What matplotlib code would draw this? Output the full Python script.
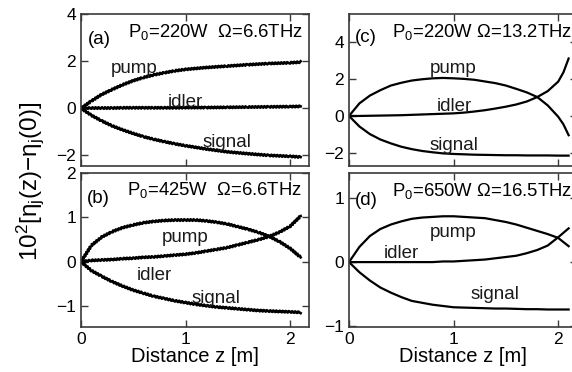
import matplotlib
matplotlib.use("Agg")
import matplotlib.pyplot as plt

plt.rcParams["font.family"] = ["Liberation Sans", "DejaVu Sans"]
plt.rcParams["mathtext.fontset"] = "custom"
plt.rcParams["mathtext.rm"] = "Liberation Sans"
plt.rcParams["mathtext.it"] = "Liberation Sans"
plt.rcParams["mathtext.default"] = "regular"

# ---- panel (a): P0=220W, Omega=6.6THz ----
z_a = [0, 0.1, 0.2, 0.3, 0.4, 0.5, 0.6, 0.7, 0.8, 0.9, 1.0, 1.2, 1.4, 1.6, 1.8, 2.0, 2.1]
pump_a = [0, 0.31, 0.59, 0.80, 1.00, 1.17, 1.31, 1.42, 1.51, 1.59, 1.65, 1.73, 1.79, 1.85, 1.90, 1.93, 1.96]
idler_a = [0, 0.01, 0.01, 0.01, 0.02, 0.02, 0.02, 0.02, 0.02, 0.02, 0.03, 0.03, 0.04, 0.05, 0.06, 0.07, 0.08]
signal_a = [0, -0.30, -0.54, -0.75, -0.92, -1.07, -1.21, -1.32, -1.42, -1.51, -1.59, -1.73, -1.85, -1.93, -2.00, -2.04, -2.07]

# ---- panel (b): P0=425W, Omega=6.6THz ----
z_b = [0, 0.1, 0.2, 0.3, 0.4, 0.5, 0.6, 0.7, 0.8, 0.9, 1.0, 1.1, 1.2, 1.3, 1.4, 1.5, 1.6, 1.7, 1.8, 1.9, 2.0, 2.1]
pump_b = [0, 0.37, 0.56, 0.68, 0.77, 0.83, 0.88, 0.91, 0.93, 0.94, 0.94, 0.94, 0.92, 0.89, 0.85, 0.79, 0.73, 0.66, 0.57, 0.45, 0.30, 0.10]
idler_b = [0, 0.03, 0.04, 0.05, 0.07, 0.08, 0.10, 0.11, 0.13, 0.15, 0.17, 0.20, 0.24, 0.28, 0.32, 0.38, 0.44, 0.50, 0.57, 0.67, 0.80, 1.03]
signal_b = [0, -0.20, -0.33, -0.45, -0.55, -0.64, -0.71, -0.78, -0.83, -0.88, -0.92, -0.96, -0.99, -1.02, -1.04, -1.06, -1.08, -1.10, -1.11, -1.12, -1.13, -1.14]

# ---- panel (c): P0=220W, Omega=13.2THz ----
z_c = [0, 0.1, 0.2, 0.3, 0.4, 0.5, 0.6, 0.7, 0.8, 0.9, 1.0, 1.1, 1.2, 1.3, 1.4, 1.5, 1.6, 1.7, 1.8, 1.9, 2.0, 2.05, 2.1]
pump_c = [0, 0.68, 1.10, 1.39, 1.64, 1.79, 1.91, 1.98, 2.03, 2.05, 2.03, 2.00, 1.95, 1.86, 1.77, 1.64, 1.46, 1.27, 1.02, 0.57, -0.04, -0.45, -1.04]
idler_c = [0, 0.00, 0.01, 0.02, 0.03, 0.04, 0.06, 0.08, 0.10, 0.12, 0.14, 0.18, 0.24, 0.31, 0.40, 0.50, 0.62, 0.78, 1.02, 1.34, 1.85, 2.35, 3.10]
signal_c = [0, -0.57, -0.98, -1.27, -1.48, -1.66, -1.79, -1.89, -1.96, -2.02, -2.05, -2.07, -2.09, -2.10, -2.11, -2.12, -2.12, -2.13, -2.13, -2.13, -2.14, -2.14, -2.14]

# ---- panel (d): P0=650W, Omega=16.5THz ----
z_d = [0, 0.1, 0.2, 0.3, 0.4, 0.5, 0.6, 0.7, 0.8, 0.9, 1.0, 1.1, 1.2, 1.3, 1.4, 1.5, 1.6, 1.7, 1.8, 1.9, 2.0, 2.1]
pump_d = [0, 0.24, 0.41, 0.52, 0.59, 0.64, 0.68, 0.70, 0.71, 0.72, 0.72, 0.71, 0.70, 0.69, 0.66, 0.63, 0.59, 0.54, 0.49, 0.44, 0.38, 0.25]
idler_d = [0, 0.00, 0.00, 0.00, 0.00, 0.00, 0.00, 0.00, 0.00, 0.01, 0.01, 0.02, 0.03, 0.04, 0.06, 0.08, 0.10, 0.14, 0.19, 0.26, 0.39, 0.53]
signal_d = [0, -0.16, -0.29, -0.40, -0.48, -0.55, -0.61, -0.64, -0.67, -0.69, -0.71, -0.715, -0.72, -0.725, -0.73, -0.73, -0.735, -0.74, -0.74, -0.745, -0.745, -0.745]

x_ticks = [0, 1, 2]
title_a = "P$_0$=220W  Ω=6.6THz"
title_b = "P$_0$=425W  Ω=6.6THz"
title_c = "P$_0$=220W Ω=13.2THz"
title_d = "P$_0$=650W Ω=16.5THz"

W, H = 572, 372
fig = plt.figure(figsize=(W / 100, H / 100), dpi=100)


def box(x0, y0, x1, y1):
    return [x0 / W, 1 - y1 / H, (x1 - x0) / W, (y1 - y0) / H]


panels = [
    dict(rect=box(81, 14, 309, 166), z=z_a, pump=pump_a, idler=idler_a, signal=signal_a,
         ylim=(-2.45, 4.0), yticks=[-2, 0, 2, 4], tag="(a)", title=title_a, wiggle=True,
         lab=dict(pump=(0.51, 1.50), idler=(1.0, 0.07), signal=(1.40, -1.66)),
         tagpos=(0.028, 0.80), titlepos=(0.206, 0.85), bottom=False),
    dict(rect=box(81, 173, 309, 327), z=z_b, pump=pump_b, idler=idler_b, signal=signal_b,
         ylim=(-1.47, 2.0), yticks=[-1, 0, 1, 2], tag="(b)", title=title_b, wiggle=True,
         lab=dict(pump=(1.0, 0.45), idler=(0.70, -0.40), signal=(1.29, -0.93)),
         tagpos=(0.024, 0.805), titlepos=(0.20, 0.857), bottom=True),
    dict(rect=box(349, 14, 577, 166), z=z_c, pump=pump_c, idler=idler_c, signal=signal_c,
         ylim=(-2.7, 5.5), yticks=[-2, 0, 2, 4], tag="(c)", title=title_c, wiggle=False,
         lab=dict(pump=(1.0, 2.32), idler=(1.01, 0.27), signal=(1.0, -1.82)),
         tagpos=(0.026, 0.816), titlepos=(0.19, 0.85), bottom=False),
    dict(rect=box(349, 173, 577, 327), z=z_d, pump=pump_d, idler=idler_d, signal=signal_d,
         ylim=(-1.02, 1.4), yticks=[-1, 0, 1], tag="(d)", title=title_d, wiggle=False,
         lab=dict(pump=(1.0, 0.40), idler=(0.5, 0.07), signal=(1.4, -0.585)),
         tagpos=(0.026, 0.79), titlepos=(0.19, 0.85), bottom=True),
]

spine_col = "#3a3a3a"
for p in panels:
    ax = fig.add_axes(p["rect"])
    for name in ("pump", "idler", "signal"):
        (ln,) = ax.plot(p["z"], p[name], color="black", lw=1.9 if p["wiggle"] else 1.6,
                        solid_joinstyle="round")
        if p["wiggle"]:
            ln.set_sketch_params(scale=0.9, length=3.0, randomness=1.0)
        lx, ly = p["lab"][name]
        ax.text(lx, ly, name, fontsize=13.5, ha="center", va="baseline", color="#1a1a1a")
    ax.set_xlim(0, 2.18)
    ax.set_ylim(*p["ylim"])
    ax.set_xticks(x_ticks)
    ax.set_yticks(p["yticks"])
    ax.tick_params(direction="in", length=5, width=1.0, color=spine_col,
                   top=True, right=True, labelsize=12.5, pad=3.5)
    if not p["bottom"]:
        ax.tick_params(labelbottom=False)
    else:
        ax.set_xlabel("Distance z [m]", fontsize=14.5, labelpad=0)
    ax.set_yticklabels(["\u2212%d" % -v if v < 0 else "%d" % v for v in p["yticks"]])
    for s in ax.spines.values():
        s.set_color(spine_col)
        s.set_linewidth(1.2)
    ax.text(*p["tagpos"], p["tag"], transform=ax.transAxes, fontsize=13.5, va="baseline")
    ax.text(*p["titlepos"], p["title"], transform=ax.transAxes, fontsize=13.3, va="baseline")

fig.text(0.052, 0.513, "10$^2$[η$_j$(z)−η$_j$(0)]", rotation=90, fontsize=17.5,
         ha="center", va="center")

fig.savefig("out.png", dpi=100)
